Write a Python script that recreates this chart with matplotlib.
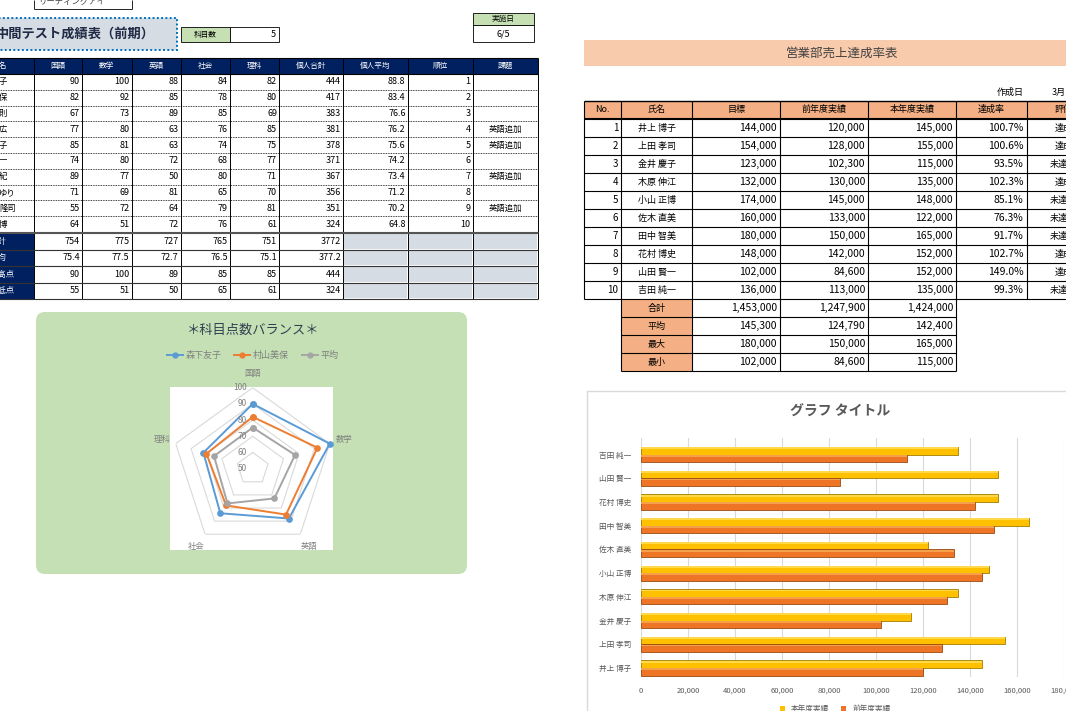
import numpy as np
import matplotlib
matplotlib.use('Agg')
import matplotlib.pyplot as plt
from matplotlib.patches import Rectangle, FancyBboxPatch
from matplotlib.lines import Line2D
from matplotlib.transforms import offset_copy

plt.rcParams['font.family'] = ['Noto Sans CJK JP', 'DejaVu Sans']

# ---- 中間テスト成績表（前期） ----
subjects = ['国語', '数学', '英語', '社会', '理科']
score_headers = subjects + ['個人合計', '個人平均', '順位', '課題']
student_tails = ['子', '保', '則', '広', '子', '一', '紀', 'ゆり', '隆司', '博']
kokugo = [90, 82, 67, 77, 85, 74, 89, 71, 55, 64]
sugaku = [100, 92, 73, 80, 81, 80, 77, 69, 72, 51]
eigo = [88, 85, 89, 63, 63, 72, 50, 81, 64, 72]
shakai = [84, 78, 85, 76, 74, 68, 80, 65, 79, 76]
rika = [82, 80, 69, 85, 75, 77, 71, 70, 81, 61]
totals = [444, 417, 383, 381, 378, 371, 367, 356, 351, 324]
averages = [88.8, 83.4, 76.6, 76.2, 75.6, 74.2, 73.4, 71.2, 70.2, 64.8]
ranks = [1, 2, 3, 4, 5, 6, 7, 8, 9, 10]
tasks = ['', '', '', '英語追加', '英語追加', '', '英語追加', '', '英語追加', '']
summary_labels = ['合計', '平均', '最高点', '最低点']
sum_total = [754, 775, 727, 765, 751, 3772]
sum_avg = [75.4, 77.5, 72.7, 76.5, 75.1, 377.2]
sum_max = [90, 100, 89, 85, 85, 444]
sum_min = [55, 51, 50, 65, 61, 324]
subject_count = 5
test_date = '6/5'

# ---- レーダーチャート ----
radar_series = ['森下友子', '村山美保', '平均']
radar_morishita = [90, 100, 88, 84, 82]
radar_murayama = [82, 92, 85, 78, 80]
radar_average = [75.4, 77.5, 72.7, 76.5, 75.1]
radar_levels = [50, 60, 70, 80, 90, 100]

# ---- 営業部売上達成率表 ----
sales_headers = ['No.', '氏名', '目標', '前年度実績', '本年度実績', '達成率', '評価']
sales_no = [1, 2, 3, 4, 5, 6, 7, 8, 9, 10]
sales_names = ['井上 博子', '上田 孝司', '金井 慶子', '木原 伸江', '小山 正博',
               '佐木 直美', '田中 智美', '花村 博史', '山田 賢一', '吉田 純一']
targets = [144000, 154000, 123000, 132000, 174000, 160000, 180000, 148000, 102000, 136000]
prev_year = [120000, 128000, 102300, 130000, 145000, 133000, 150000, 142000, 84600, 113000]
this_year = [145000, 155000, 115000, 135000, 148000, 122000, 165000, 152000, 152000, 135000]
rates = [100.7, 100.6, 93.5, 102.3, 85.1, 76.3, 91.7, 102.7, 149.0, 99.3]
evaluations = ['達成', '達成', '未達成', '達成', '未達成', '未達成', '未達成', '達成', '達成', '未達成']
sales_sum_labels = ['合計', '平均', '最大', '最小']
sales_sum = [[1453000, 1247900, 1424000],
             [145300, 124790, 142400],
             [180000, 150000, 165000],
             [102000, 84600, 115000]]
bar_labels = ['本年度実績', '前年度実績']

W, H = 1066, 711
fig = plt.figure(figsize=(W / 100, H / 100), dpi=100)
ax = fig.add_axes([0, 0, 1, 1])
ax.set_xlim(0, W)
ax.set_ylim(H, 0)
ax.axis('off')

NAVY = '#002060'


def rect(x0, y0, x1, y1, fc='white', ec='none', lw=0.6, ls='-', z=1):
    ax.add_patch(Rectangle((x0, y0), x1 - x0, y1 - y0, fc=fc, ec=ec, lw=lw, ls=ls, zorder=z))


def hline(y, x0, x1, lw=0.6, ls='-', c='black'):
    ax.plot([x0, x1], [y, y], color=c, lw=lw, ls=ls, zorder=3, solid_capstyle='butt')


def vline(x, y0, y1, lw=0.6, c='black'):
    ax.plot([x, x], [y0, y1], color=c, lw=lw, zorder=3, solid_capstyle='butt')


# ================= left sheet =================
# top small box
vline(34, 0, 9.3)
vline(131.5, 0, 9.3)
hline(9.3, 34, 131.5)
ax.text(38, 1.5, 'リーディングアイ', fontsize=6, color='#404040', va='center', ha='left')

# title box
rect(-10, 18, 176.5, 50, fc='#d6dce4', ec='#0070c0', lw=1.4, ls=(0, (1, 1.2)))
ax.text(-4, 34, '中間テスト成績表（前期）', fontsize=9.5, weight='bold',
        color='#1f2a44', ha='left', va='center')

# 科目数
rect(180.6, 27, 229.8, 42, fc='#c6e0b4', ec='black', lw=0.6)
rect(229.8, 27, 279, 42, fc='white', ec='black', lw=0.6)
ax.text(205.2, 34.5, '科目数', fontsize=5.5, ha='center', va='center')
ax.text(276, 34.5, str(subject_count), fontsize=6.5, ha='right', va='center')

# 実施日
rect(473, 12.8, 534, 25, fc='#c6e0b4', ec='black', lw=0.6)
rect(473, 25, 534, 42, fc='white', ec='black', lw=0.6)
ax.text(503.5, 19, '実施日', fontsize=5.5, ha='center', va='center')
ax.text(503.5, 33.5, test_date, fontsize=6.5, ha='center', va='center')

col_x = [-40, 34, 82, 131.5, 180.6, 229.8, 279, 343, 407.6, 472.7, 538]
head_y0, head_y1 = 58, 74
row_h = 15.8
data_y = [head_y1 + row_h * i for i in range(11)]
sum_h = 16.5
sum_y = [233 + sum_h * i for i in range(5)]

rect(-40, head_y0, 538, head_y1, fc=NAVY)
ax.text(-8, (head_y0 + head_y1) / 2, '氏名', fontsize=5.5, color='white', ha='left', va='center')
for j, h in enumerate(score_headers):
    ax.text((col_x[j + 1] + col_x[j + 2]) / 2, (head_y0 + head_y1) / 2, h,
            fontsize=5.5, color='white', ha='center', va='center')

score_table = [kokugo, sugaku, eigo, shakai, rika, totals, averages, ranks]
for i in range(10):
    yc = (data_y[i] + data_y[i + 1]) / 2
    ax.text(-1, yc, student_tails[i], fontsize=6, ha='left', va='center')
    for j, col in enumerate(score_table):
        ax.text(col_x[j + 2] - 2, yc, str(col[i]), fontsize=6.5, ha='right', va='center')
    ax.text((col_x[9] + col_x[10]) / 2, yc, tasks[i], fontsize=6, ha='center', va='center')

summary_table = [sum_total, sum_avg, sum_max, sum_min]
for i, lab in enumerate(summary_labels):
    y0, y1 = sum_y[i], sum_y[i + 1]
    yc = (y0 + y1) / 2
    rect(-40, y0, 34, y1, fc=NAVY)
    ax.text(-10, yc, lab, fontsize=6, color='white', ha='left', va='center')
    for j, v in enumerate(summary_table[i]):
        ax.text(col_x[j + 2] - 2, yc, str(v), fontsize=6.5, ha='right', va='center')
    for j in range(7, 10):
        rect(col_x[j] + 1, y0 + 1, col_x[j + 1] - 1, y1 - 1, fc='#d6dce4')

# grid lines of left table
for x in col_x[1:]:
    vline(x, head_y0, sum_y[-1], lw=0.7)
hline(head_y0, -40, 538, lw=0.8)
hline(head_y1, -40, 538, lw=0.8)
for y in data_y[1:-1]:
    hline(y, -40, 538, lw=0.6, ls=(0, (1, 1)))
hline(data_y[-1], -40, 538, lw=0.8, c='#555555')
hline(sum_y[0] - 0.2, -40, 538, lw=0.8, c='#555555')
for y in sum_y[1:]:
    hline(y, -40, 538, lw=0.8, c='#333333')

# radar background
ax.add_patch(FancyBboxPatch((36, 312), 431, 262, boxstyle='round,pad=0,rounding_size=9',
                            fc='#c5e0b4', ec='none', zorder=1))
rect(170, 386.7, 332.7, 550, fc='white', z=2)
ax.text(252.7, 330, '＊科目点数バランス＊', fontsize=9.5, color='#333f50',
        ha='center', va='center', zorder=3)

# ================= right sheet =================
rect(584, 40, 1070, 66, fc='#f8cbad')
ax.text(842, 53, '営業部売上達成率表', fontsize=9, color='#404040', ha='center', va='center')
ax.text(1010, 92, '作成日', fontsize=6.5, ha='center', va='center')
ax.text(1052, 92, '3月1日', fontsize=6.5, ha='left', va='center')

rx = [584, 621.3, 692.3, 780, 868, 956, 1026.7, 1100]
rh0, rh1 = 101, 118
r_row = 18
r_data_y = [119 + r_row * i for i in range(11)]
rect(rx[0], rh0, rx[-1], rh1, fc='#f4b084')
for j, h in enumerate(sales_headers):
    ax.text((rx[j] + rx[j + 1]) / 2, (rh0 + rh1) / 2, h, fontsize=6.5, ha='center', va='center')

for i in range(10):
    yc = (r_data_y[i] + r_data_y[i + 1]) / 2
    ax.text(rx[1] - 3, yc, str(sales_no[i]), fontsize=7, ha='right', va='center')
    ax.text((rx[1] + rx[2]) / 2, yc, sales_names[i], fontsize=6.5, ha='center', va='center')
    for j, col in enumerate([targets, prev_year, this_year]):
        ax.text(rx[j + 3] - 3, yc, f'{col[i]:,}', fontsize=7.5, ha='right', va='center')
    ax.text(rx[6] - 3, yc, f'{rates[i]:.1f}%', fontsize=7.5, ha='right', va='center')
    ax.text((rx[6] + rx[7]) / 2, yc, evaluations[i], fontsize=6.5, ha='center', va='center')

s_y = [r_data_y[-1] + r_row * i for i in range(5)]
for i, lab in enumerate(sales_sum_labels):
    y0, y1 = s_y[i], s_y[i + 1]
    yc = (y0 + y1) / 2
    rect(rx[1], y0, rx[2], y1, fc='#f4b084')
    ax.text((rx[1] + rx[2]) / 2, yc, lab, fontsize=6.5, ha='center', va='center')
    for j, v in enumerate(sales_sum[i]):
        ax.text(rx[j + 3] - 3, yc, f'{v:,}', fontsize=7.5, ha='right', va='center')

for x in rx[:-1]:
    vline(x, rh0, r_data_y[-1], lw=0.8)
for x in rx[1:6]:
    vline(x, r_data_y[-1], s_y[-1], lw=0.8)
hline(rh0, rx[0], rx[-1], lw=1.0)
hline(rh1 - 0.5, rx[0], rx[-1], lw=0.8)
hline(rh1 + 1.2, rx[0], rx[-1], lw=0.8)
for y in r_data_y[1:]:
    hline(y, rx[0], rx[-1], lw=0.8)
for y in s_y[1:]:
    hline(y, rx[1], rx[5], lw=0.8)

# bar chart frame
rect(587, 391, 1100, 760, fc='white', ec='#d9d9d9', lw=1.0)
ax.text(840, 411.5, 'グラフ タイトル', fontsize=10, weight='bold', color='#595959',
        ha='center', va='center')

# ================= radar chart =================
cx, cy, R = 252.7, 468.7, 81
rax = fig.add_axes([(cx - R) / W, (H - cy - R) / H, 2 * R / W, 2 * R / H], projection='polar')
rax.set_theta_zero_location('N')
rax.set_theta_direction(-1)
rax.set_ylim(50, 100)
rax.patch.set_alpha(0)
rax.grid(False)
rax.spines['polar'].set_visible(False)
rax.set_xticks([])
rax.set_yticks([])

angles = np.arange(len(subjects)) * 2 * np.pi / len(subjects)
closed = np.append(angles, angles[0])
for lvl in radar_levels[1:]:
    rax.plot(closed, [lvl] * len(closed), color='#d9d9d9', lw=0.8, zorder=1)

radar_colors = ['#5b9bd5', '#ed7d31', '#a5a5a5']
for name, vals, c in zip(radar_series, [radar_morishita, radar_murayama, radar_average], radar_colors):
    v = np.append(vals, vals[0])
    rax.plot(closed, v, color=c, lw=1.4, marker='o', markersize=3.8,
             markerfacecolor=c, markeredgecolor=c, label=name, zorder=3, clip_on=False)

tick_tr = offset_copy(rax.transData, fig=fig, x=-6, y=0, units='dots')
for lvl in radar_levels:
    rax.text(0, lvl, str(lvl), transform=tick_tr, fontsize=6, color='#7f7f7f',
             ha='right', va='center')
for a, s in zip(angles, subjects):
    rax.text(a, 109, s, fontsize=6, color='#7f7f7f', ha='center', va='center')

handles = [Line2D([], [], color=c, lw=1.4, marker='o', markersize=3.5) for c in radar_colors]
fig.legend(handles, radar_series, loc='center', bbox_to_anchor=(252.7 / W, 1 - 355.7 / H),
           ncol=3, frameon=False, fontsize=6.5, labelcolor='#7f7f7f', handlelength=1.8,
           handletextpad=0.3, columnspacing=1.4)

# ================= bar chart =================
bax = fig.add_axes([641 / W, (H - 677) / H, (1064 - 641) / W, (677 - 438) / H])
ypos = np.arange(len(sales_names))
bh = 0.32
bax.barh(ypos + bh / 2, this_year, height=bh, color='#ffc000', edgecolor='#a07c00', lw=0.6,
         label=bar_labels[0], zorder=3)
bax.barh(ypos - bh / 2, prev_year, height=bh, color='#ee7426', edgecolor='#9a4a12', lw=0.6,
         label=bar_labels[1], zorder=3)
# lighter top faces for the 3-D look
bax.barh(ypos + bh - 0.05, this_year, height=0.08, color='#ffd94a', lw=0, zorder=4)
bax.barh(ypos - 0.05, prev_year, height=0.08, color='#f5a04a', lw=0, zorder=4)
bax.set_xlim(0, 180000)
bax.set_ylim(-0.38, 9.7)
xt = np.arange(0, 180001, 20000)
bax.set_xticks(xt)
bax.set_xticklabels([f'{v:,}' for v in xt])
bax.set_yticks(ypos)
bax.set_yticklabels(sales_names)
bax.grid(axis='x', color='#d9d9d9', lw=0.8, zorder=0)
for s in bax.spines.values():
    s.set_visible(False)
bax.tick_params(length=0, labelsize=5.5, colors='#595959', pad=7)
bax.patch.set_alpha(0)

leg_handles = [Rectangle((0, 0), 1, 1, fc='#ffc000'), Rectangle((0, 0), 1, 1, fc='#ee7426')]
fig.legend(leg_handles, bar_labels, loc='center', bbox_to_anchor=(835 / W, 1 - 709 / H),
           ncol=2, frameon=False, fontsize=5.5, labelcolor='#595959', handlelength=0.7,
           handleheight=0.7, columnspacing=1.5)

fig.savefig('out.png', dpi=100)
